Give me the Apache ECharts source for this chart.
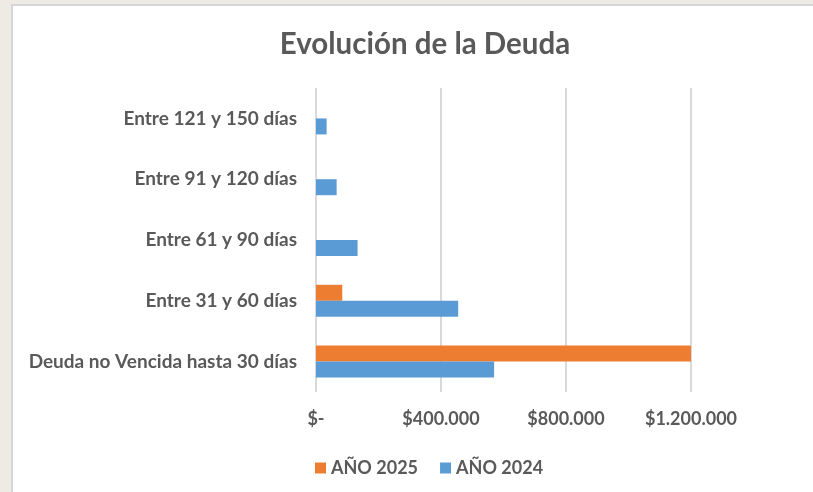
<!DOCTYPE html>
<html>
<head>
<meta charset="utf-8">
<script src="https://cdn.jsdelivr.net/npm/echarts@6/dist/echarts.min.js"></script>
<style>
html,body{margin:0;padding:0;background:#eeebe4;}
#c{position:absolute;left:0;top:0;width:813px;height:492px;}
</style>
</head>
<body>
<div id="c"></div>
<script>
const categories = ['Deuda no Vencida hasta 30 días','Entre 31 y 60 días','Entre 61 y 90 días','Entre 91 y 120 días','Entre 121 y 150 días'];
const values2024 = [570000, 455000, 133000, 66000, 34000];
const values2025 = [1200000, 84000, 0, 0, 0];
const seriesNames = ['AÑO 2025','AÑO 2024'];
const titleText = 'Evolución de la Deuda';

const FONT = 'Lato';
const GRAY = '#595959';

function fmt(v){
  if (v === 0) return '$-';
  return '$' + String(v).replace(/\B(?=(\d{3})+(?!\d))/g, '.');
}

const chart = echarts.init(document.getElementById('c'));
chart.setOption({
  backgroundColor: '#eeebe4',
  animation: false,
  graphic: [{
    type: 'rect', z: -100, silent: true,
    shape: {x: 12, y: 5, width: 900, height: 600},
    style: {fill: '#ffffff', stroke: '#d6d6d6', lineWidth: 2}
  }],
  title: {
    text: titleText,
    left: 420, top: 24, textAlign: 'center',
    textStyle: {fontFamily: FONT, fontSize: 29.5, fontWeight: 'bold', color: GRAY}
  },
  legend: {
    data: seriesNames,
    left: 310, top: 454,
    itemWidth: 11, itemHeight: 11, itemGap: 22,
    icon: 'rect',
    textStyle: {fontFamily: FONT, fontSize: 18, fontWeight: 'bold', color: GRAY}
  },
  grid: {left: 316, right: -3, top: 88, bottom: 100, containLabel: false, outerBoundsMode: 'none'},
  xAxis: {
    type: 'value', min: 0, max: 1600000, interval: 400000,
    axisLine: {show: false}, axisTick: {show: false},
    splitLine: {lineStyle: {color: '#d9d9d9', width: 2}},
    axisLabel: {formatter: fmt, margin: 18, showMaxLabel: false, fontFamily: FONT, fontSize: 18, fontWeight: 'bold', color: GRAY}
  },
  yAxis: {
    type: 'category', data: categories,
    axisLine: {show: false}, axisTick: {show: false},
    axisLabel: {margin: 19, fontFamily: FONT, fontSize: 19, fontWeight: 'bold', color: GRAY}
  },
  series: [
    {name: 'AÑO 2025', type: 'bar', data: values2025, barWidth: 16, barGap: '0%',
     itemStyle: {color: '#ed7d31'}},
    {name: 'AÑO 2024', type: 'bar', data: values2024, barWidth: 16, barGap: '0%',
     itemStyle: {color: '#5b9bd5'}}
  ]
});
</script>
</body>
</html>
